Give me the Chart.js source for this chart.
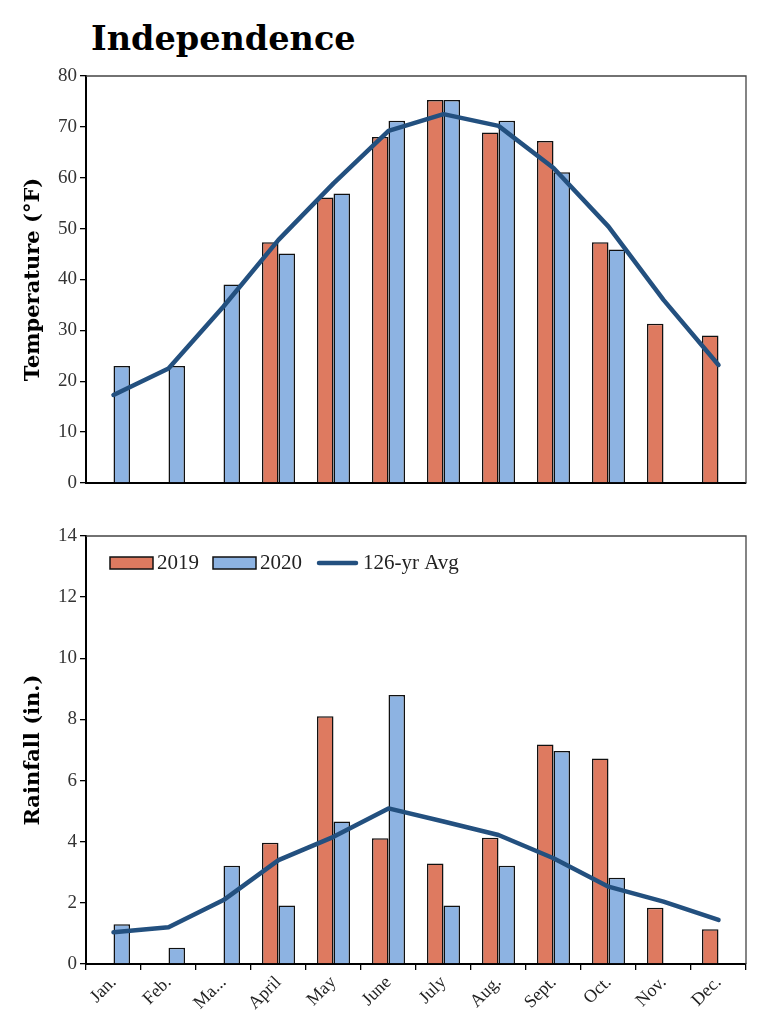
<!DOCTYPE html>
<html>
<head>
<meta charset="utf-8">
<script src="https://cdn.jsdelivr.net/npm/chart.js@4"></script>
<style>
body{margin:0;background:#fff;}
#wrap{position:relative;width:771px;height:1024px;overflow:hidden;}
#title{position:absolute;left:91px;top:19px;font:bold 33.5px "DejaVu Serif",serif;color:#000;}
canvas{position:absolute;left:0;}
</style>
</head>
<body>
<div id="wrap">
  <div id="title">Independence</div>
  <canvas id="tempChart" width="771" height="500" style="top:0"></canvas>
  <canvas id="rainChart" width="771" height="524" style="top:500px"></canvas>
</div>
<script>
// DATA
const months = ["Jan.", "Feb.", "Ma...", "April", "May", "June", "July", "Aug.", "Sept.", "Oct.", "Nov.", "Dec."];

const temp2019 = [null, null, null, 47.3, 56.1, 68.0, 75.3, 68.9, 67.2, 47.3, 31.3, 29.0];
const temp2020 = [23.0, 23.0, 39.0, 45.1, 56.9, 71.2, 75.3, 71.2, 61.1, 45.9, null, null];
const tempAvg  = [17.3, 22.5, 34.7, 47.8, 58.9, 69.2, 72.5, 70.2, 61.9, 50.4, 36.0, 23.2];

const rain2019 = [null, null, null, 3.97, 8.1, 4.11, 3.29, 4.13, 7.18, 6.72, 1.84, 1.14];
const rain2020 = [1.30, 0.53, 3.21, 1.91, 4.66, 8.80, 1.91, 3.21, 6.97, 2.82, null, null];
const rainAvg  = [1.04, 1.20, 2.09, 3.40, 4.16, 5.09, 4.66, 4.22, 3.46, 2.53, 2.04, 1.44];

const tempTicks = { min: 0, max: 80, step: 10 };
const rainTicks = { min: 0, max: 14, step: 2 };

// STYLE
const orange = "#DE7A60";
const blue = "#8DB3E2";
const navy = "#23507F";
const serif = "'Liberation Serif', serif";
const boldSerif = "'DejaVu Serif', serif";

// frame around plot area (top + right)
const frame = {
  id: "frame",
  afterDraw(chart){
    const { ctx, chartArea: a } = chart;
    ctx.save();
    ctx.strokeStyle = "#444";
    ctx.lineWidth = 1.3;
    ctx.beginPath();
    ctx.moveTo(a.left, a.top);
    ctx.lineTo(a.right, a.top);
    ctx.lineTo(a.right, a.bottom);
    ctx.stroke();
    ctx.restore();
  }
};

// legend inside plot area
const inlineLegend = {
  id: "inlineLegend",
  afterDraw(chart, args, opts){
    if(!opts.show) return;
    const { ctx, chartArea } = chart;
    let x = chartArea.left + opts.left;
    const y = chartArea.top + opts.top;
    ctx.save();
    ctx.font = opts.font;
    ctx.textBaseline = "middle";
    chart.data.datasets.forEach(ds => {
      if(ds.type === "line"){
        ctx.strokeStyle = ds.borderColor;
        ctx.lineWidth = ds.borderWidth;
        ctx.lineCap = "round";
        ctx.beginPath();
        ctx.moveTo(x + 3, y);
        ctx.lineTo(x + opts.boxWidth - 3, y);
        ctx.stroke();
      } else {
        ctx.fillStyle = ds.backgroundColor;
        ctx.fillRect(x, y - opts.boxHeight / 2, opts.boxWidth, opts.boxHeight);
        ctx.strokeStyle = ds.borderColor;
        ctx.lineWidth = ds.borderWidth;
        ctx.strokeRect(x, y - opts.boxHeight / 2, opts.boxWidth, opts.boxHeight);
      }
      x += opts.boxWidth + opts.gap;
      ctx.fillStyle = "#222";
      ctx.fillText(ds.label, x, y);
      x += ctx.measureText(ds.label).width + opts.spacing;
    });
    ctx.restore();
  }
};

function makeChart(id, d2019, d2020, avg, ticks, yTitle, opts){
  return new Chart(document.getElementById(id), {
    type: "bar",
    data: {
      labels: months,
      datasets: [
        { label: "2019", data: d2019, backgroundColor: orange, borderColor: "#111", borderWidth: 1.5, order: 1 },
        { label: "2020", data: d2020, backgroundColor: blue, borderColor: "#111", borderWidth: 1.5, order: 1 },
        { type: "line", label: "126-yr Avg", data: avg, borderColor: navy, backgroundColor: navy,
          borderWidth: 4.5, pointRadius: 0, tension: 0, borderJoinStyle: "round", borderCapStyle: "round", order: 0 }
      ]
    },
    options: {
      responsive: false,
      animation: false,
      categoryPercentage: 0.6,
      barPercentage: 1.0,
      layout: { padding: opts.padding },
      plugins: {
        legend: { display: false },
        tooltip: { enabled: false },
        inlineLegend: opts.legend
      },
      scales: {
        x: {
          grid: { display: opts.xTicks, drawOnChartArea: false, tickLength: 6, color: "#000", lineWidth: 1.3, offset: true },
          border: { color: "#000", width: 2 },
          ticks: { display: opts.xTicks, maxRotation: 45, minRotation: 45, color: "#222", font: { family: serif, size: 18 }, padding: 2 },
          afterFit: s => { s.height = opts.xHeight; }
        },
        y: {
          min: ticks.min, max: ticks.max,
          ticks: { stepSize: ticks.step, color: "#333", font: { family: serif, size: 19 }, padding: 3 },
          grid: { drawOnChartArea: false, tickLength: 6, color: "#000", lineWidth: 1.3 },
          border: { color: "#000", width: 2 },
          title: { display: true, text: yTitle, color: "#000", font: { family: boldSerif, size: 21, weight: "bold" }, padding: { top: 11, bottom: 0 } },
          afterFit: s => { s.width = 76; }
        }
      }
    },
    plugins: [frame, inlineLegend]
  });
}

makeChart("tempChart", temp2019, temp2020, tempAvg, tempTicks, "Temperature (°F)", {
  padding: { top: 76, left: 10, right: 25, bottom: 17 },
  xTicks: false, xHeight: 0,
  legend: { show: false }
});

makeChart("rainChart", rain2019, rain2020, rainAvg, rainTicks, "Rainfall (in.)", {
  padding: { top: 36, left: 10, right: 25, bottom: 0 },
  xTicks: true, xHeight: 60,
  legend: { show: true, left: 24, top: 27, boxWidth: 43, boxHeight: 12, gap: 4, spacing: 14, font: "21px " + serif }
});
</script>
</body>
</html>
